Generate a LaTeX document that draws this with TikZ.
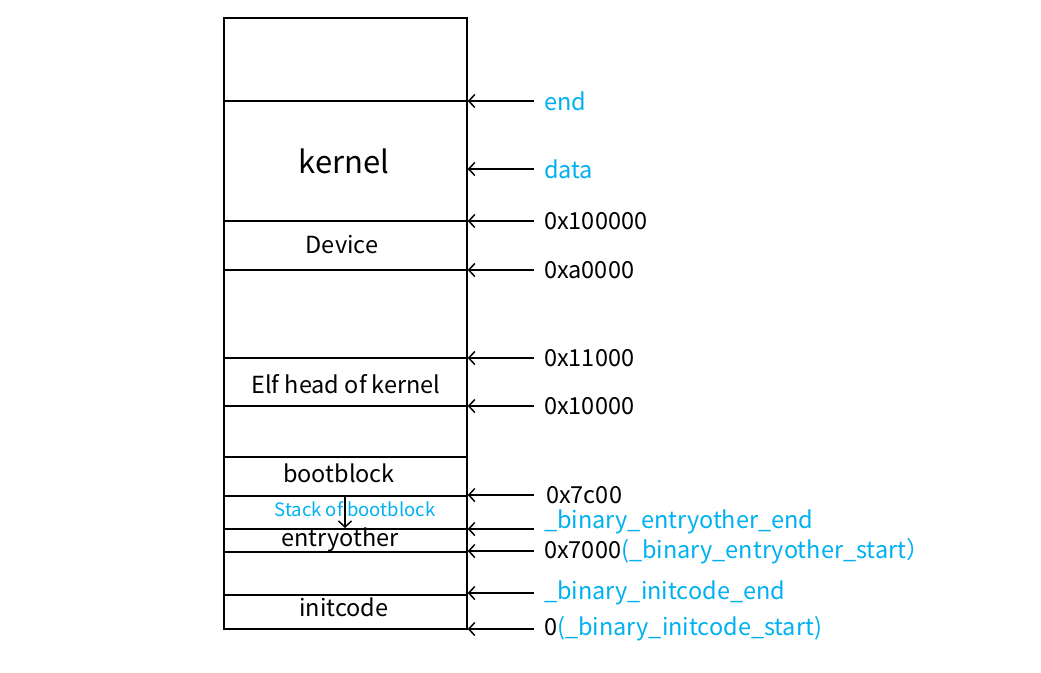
\documentclass[tikz,border=0pt]{standalone}
\usepackage{fontspec}
\setmainfont{Noto Sans CJK SC}
\usetikzlibrary{arrows.meta}
\definecolor{symblue}{RGB}{0,176,240}

\begin{document}
\begin{tikzpicture}[x=1pt, y=-1pt,
    wall/.style={line width=1.5pt},
    region/.style={inner sep=0pt, font=\fontsize{23.5}{27}\selectfont},
    addr/.style={anchor=west, inner sep=0pt, inner xsep=10pt, font=\fontsize{23.5}{27}\selectfont},
    sym/.style={addr, text=symblue},
    ptr/.style={-{Straight Barb[length=6pt,width=13pt]}, line width=1.5pt}]
    \useasboundingbox (0,0) rectangle (1041,672);

    % memory layout
    \node[draw, wall, inner sep=0pt, minimum width=243pt, minimum height=611pt] (mem) at (345.5,323.5) {};
    \foreach \y in {101,221,270,358,406,457,496,529,552,595}
        \draw[wall] (224,\y) -- (467,\y);

    \node[region, font=\fontsize{31}{35}\selectfont] (kernel) at (344,161) {kernel};
    \node[region] (device) at (342,245) {Device};
    \node[region] (elf) at (346,384) {Elf head of kernel};
    \node[region] (boot) at (339,473) {bootblock};
    \node[region, text=symblue, font=\fontsize{18.5}{22}\selectfont] (stack) at (355,509) {Stack of bootblock};
    \node[region] (entry) at (340,540) {entryother};
    \node[region] (init) at (344,607) {initcode};

    \coordinate (stktop) at (345,496);
    \coordinate (stkbot) at (345,528);
    \draw[ptr] (stktop) -- (stkbot);

    % addresses
    \node[sym] (end) at (534,101) {end};
    \node[sym] (data) at (534,169) {data};
    \node[addr] (a100000) at (534,221) {0x100000};
    \node[addr] (aa0000) at (534,270) {0xa0000};
    \node[addr] (a11000) at (534,358) {0x11000};
    \node[addr] (a10000) at (534,406) {0x10000};
    \node[addr] (a7c00) at (536,495) {0x7c00};
    \node[sym] (eoend) at (534,522) {\_binary\_entryother\_end};
    \node[addr] (a7000) at (534,551) {0x7000\textcolor{symblue}{(\_binary\_entryother\_start）}};
    \node[sym] (icend) at (534,593) {\_binary\_initcode\_end};
    \node[addr] (a0) at (534,629) {0\textcolor{symblue}{(\_binary\_initcode\_start)}};

    \draw[ptr] (end.west) -- (end.west -| mem.east);
    \draw[ptr] (data.west) -- (data.west -| mem.east);
    \draw[ptr] (a100000.west) -- (a100000.west -| mem.east);
    \draw[ptr] (aa0000.west) -- (aa0000.west -| mem.east);
    \draw[ptr] (a11000.west) -- (a11000.west -| mem.east);
    \draw[ptr] (a10000.west) -- (a10000.west -| mem.east);
    \draw[ptr] ([xshift=-2pt]a7c00.west) -- (a7c00.west -| mem.east);
    \draw[ptr] ([yshift=-7pt]eoend.west) -- ([yshift=-7pt]eoend.west -| mem.east);
    \draw[ptr] (a7000.west) -- (a7000.west -| mem.east);
    \draw[ptr] (icend.west) -- (icend.west -| mem.east);
    \draw[ptr] (a0.west) -- (a0.west -| mem.east);
\end{tikzpicture}
\end{document}
